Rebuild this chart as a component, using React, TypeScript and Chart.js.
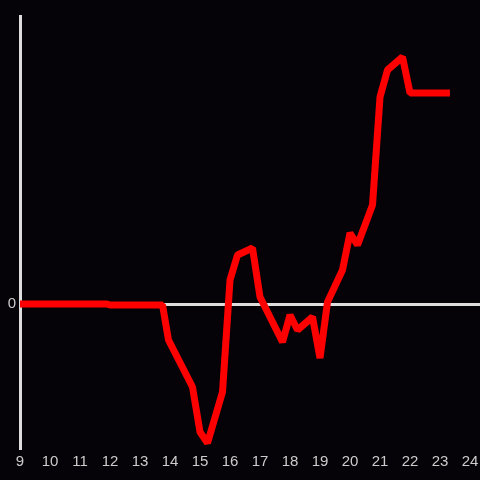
import React, { useEffect, useRef } from "react";
import { Chart, registerables } from "chart.js";

Chart.register(...registerables);

const hours = [9, 11.9, 12, 13.75, 13.95, 14.75, 15.0, 15.25, 15.75, 16.0, 16.25, 16.75, 17.0, 17.75, 18.0, 18.25, 18.75, 19.0, 19.25, 19.75, 20.0, 20.25, 20.75, 21.0, 21.25, 21.75, 22.0, 23.33];
const values = [0, 0, -1, -1, -36, -83, -128, -139, -88, 24, 49, 56, 7, -38, -11, -26, -13, -54, 2, 34, 71, 59, 99, 207, 234, 247, 211, 211];
const xTickMin = 9;
const xTickMax = 24;
const yTicks = [0];

export default function App() {
  const ref = useRef<HTMLCanvasElement | null>(null);
  useEffect(() => {
    document.body.style.margin = "0";
    document.body.style.background = "#050308";
    const ctx = ref.current!;
    const chart = new Chart(ctx, {
      type: "scatter",
      data: {
        datasets: [
          {
            data: hours.map((h, i) => ({ x: h, y: values[i] })),
            showLine: true,
            borderColor: "#ff0000",
            backgroundColor: "#ff0000",
            borderWidth: 7,
            borderJoinStyle: "bevel",
            pointRadius: 0,
            tension: 0,
          },
        ],
      },
      options: {
        animation: false,
        responsive: false,
        maintainAspectRatio: false,
        layout: { padding: { top: 16, right: 0, left: 0, bottom: 0 } },
        plugins: { legend: { display: false }, tooltip: { enabled: false } },
        scales: {
          x: {
            type: "linear",
            min: xTickMin,
            max: 24.333,
            afterBuildTicks: (s: any) => {
              const t = [];
              for (let v = xTickMin; v <= xTickMax; v++) t.push({ value: v });
              s.ticks = t;
            },
            afterFit: (s: any) => {
              s.height = 32;
              s.paddingRight = 0;
              s.paddingLeft = 0;
            },
            grid: { display: false, drawTicks: false },
            border: { display: false },
            ticks: {
              color: "#cccccc",
              padding: 5,
              maxRotation: 0,
              autoSkip: false,
              font: { family: "'Liberation Sans', Arial, sans-serif", size: 15 },
            },
          },
          y: {
            type: "linear",
            min: -144,
            max: 288,
            afterBuildTicks: (s: any) => {
              s.ticks = yTicks.map((v) => ({ value: v }));
            },
            afterFit: (s: any) => {
              s.width = 20;
            },
            grid: { color: "#dddddd", lineWidth: 3, drawTicks: false },
            border: { display: true, color: "#dddddd", width: 3 },
            ticks: {
              color: "#cccccc",
              padding: 4,
              font: { family: "'Liberation Sans', Arial, sans-serif", size: 15 },
            },
          },
        },
      },
    });
    return () => chart.destroy();
  }, []);
  return (
    <div style={{ position: "fixed", left: 0, top: 0, width: 480, height: 480, background: "#050308" }}>
      <canvas ref={ref} width={480} height={480} style={{ width: 480, height: 480, display: "block" }} />
    </div>
  );
}
